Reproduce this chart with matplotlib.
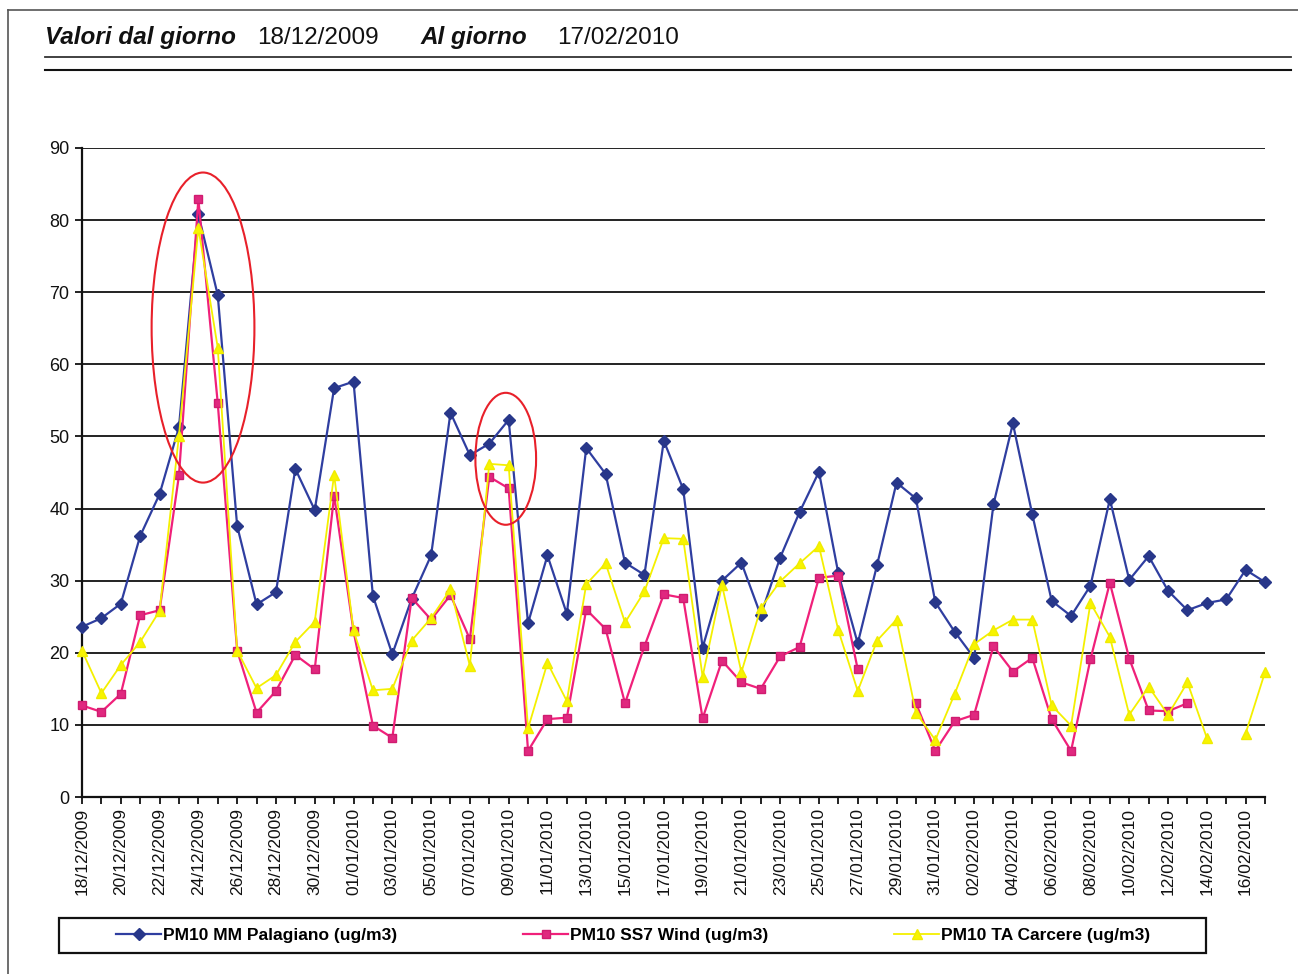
import numpy as np
import pandas as pd
import matplotlib
matplotlib.use("Agg")
import matplotlib.pyplot as plt
from matplotlib.lines import Line2D
from matplotlib.patches import Ellipse, Rectangle

plt.rcParams['font.family'] = ['Liberation Sans', 'DejaVu Sans']

# ---------------- data ----------------
dates = pd.date_range("2009-12-18", "2010-02-17", freq="D")
date_labels = [d.strftime("%d/%m/%Y") for d in dates]

palagiano = [23.6, 24.8, 26.8, 36.2, 42.0, 51.3, 80.8, 69.6, 37.6, 26.7,
             28.4, 45.5, 39.8, 56.7, 57.6, 27.9, 19.8, 27.5, 33.5, 53.3,
             47.4, 49.0, 52.3, 24.1, 33.5, 25.4, 48.4, 44.8, 32.5, 30.8,
             49.4, 42.7, 20.7, 30.0, 32.5, 25.2, 33.2, 39.5, 45.1, 31.0,
             21.3, 32.2, 43.6, 41.4, 27.0, 22.9, 19.3, 40.6, 51.8, 39.2,
             27.2, 25.1, 29.3, 41.3, 30.1, 33.4, 28.6, 25.9, 26.9, 27.4,
             31.5, 29.8]
ss7_wind = [12.7, 11.8, 14.3, 25.2, 25.9, 44.6, 82.9, 54.6, 20.3, 11.7,
            14.7, 19.7, 17.7, 41.8, 23.0, 9.9, 8.2, 27.6, 24.6, 28.0,
            21.9, 44.4, 42.8, 6.4, 10.8, 11.0, 26.0, 23.3, 13.0, 20.9,
            28.1, 27.6, 10.9, 18.9, 15.9, 15.0, 19.5, 20.8, 30.4, 30.7,
            17.7, np.nan, np.nan, 13.0, 6.4, 10.5, 11.4, 20.9, 17.4, 19.3,
            10.8, 6.4, 19.1, 29.7, 19.2, 12.0, 11.9, 13.0, np.nan, np.nan,
            np.nan, np.nan]
carcere = [20.3, 14.4, 18.3, 21.5, 25.8, 50.1, 78.9, 62.3, 20.3, 15.1,
           16.9, 21.5, 24.3, 44.7, 23.1, 14.8, 15.0, 21.7, 24.8, 28.8,
           18.2, 46.2, 46.0, 9.5, 18.6, 13.3, 29.5, 32.4, 24.2, 28.5,
           35.9, 35.8, 16.7, 29.4, 17.3, 26.2, 29.9, 32.4, 34.8, 23.1,
           14.7, 21.7, 24.6, 11.7, 7.9, 14.3, 21.2, 23.1, 24.6, 24.6,
           12.7, 9.9, 26.9, 22.2, 11.4, 15.3, 11.4, 15.9, 8.2, np.nan,
           8.8, 17.3]
series_names = ["PM10 MM Palagiano (ug/m3)", "PM10 SS7 Wind (ug/m3)",
                "PM10 TA Carcere (ug/m3)"]
y_ticks = [0, 10, 20, 30, 40, 50, 60, 70, 80, 90]

# ---------------- figure ----------------
W, H = 1298, 974
fig = plt.figure(figsize=(W / 100, H / 100), dpi=100)
fig.patch.set_facecolor("white")

def fx(px):
    return px / W

def fy(py):
    return 1 - py / H

# page border and header rules
fig.add_artist(Line2D([fx(8), fx(1298)], [fy(10), fy(10)], color="#555555", lw=1.2))
fig.add_artist(Line2D([fx(8), fx(8)], [fy(10), fy(974)], color="#555555", lw=1.2))
fig.add_artist(Line2D([fx(45), fx(1291)], [fy(57), fy(57)], color="#333333", lw=1.3))
fig.add_artist(Line2D([fx(45), fx(1291)], [fy(70), fy(70)], color="#111111", lw=1.5))

# header text
fig.text(fx(45), fy(44), "Valori dal giorno", fontsize=17.5, fontweight="bold",
         fontstyle="italic", ha="left", va="baseline", color="#111111")
fig.text(fx(257), fy(44), "18/12/2009", fontsize=17.5, ha="left", va="baseline",
         color="#111111")
fig.text(fx(420), fy(44), "Al giorno", fontsize=17.5, fontweight="bold",
         fontstyle="italic", ha="left", va="baseline", color="#111111")
fig.text(fx(557), fy(44), "17/02/2010", fontsize=17.5, ha="left", va="baseline",
         color="#111111")

# axes
ax = fig.add_axes([fx(82), fy(797), fx(1265) - fx(82), fy(148) - fy(797)])
x = np.arange(len(dates))
ax.set_xlim(0, len(dates) - 1)
ax.set_ylim(0, 90)

ax.set_yticks(y_ticks)
ax.set_yticklabels([str(v) for v in y_ticks], fontsize=13)
ax.set_xticks(x)
ax.set_xticklabels([lab if i % 2 == 0 else "" for i, lab in enumerate(date_labels)],
                   rotation=90, fontsize=12.5)
ax.tick_params(axis="x", direction="out", length=5, width=1.3, pad=3, colors="#111111")
ax.tick_params(axis="y", direction="out", length=5, width=1.3, pad=4, colors="#111111")

for v in y_ticks[1:]:
    ax.axhline(v, color="#222222", lw=1.4, zorder=1)

for s in ["top", "right"]:
    ax.spines[s].set_visible(False)
for s in ["left", "bottom"]:
    ax.spines[s].set_color("#111111")
    ax.spines[s].set_linewidth(1.6)

blue_line, = ax.plot(x, palagiano, color="#2f3ea0", lw=1.6, marker="D", ms=6,
                     mfc="#28378a", mec="#28378a", zorder=3, clip_on=False)
pink_line, = ax.plot(x, ss7_wind, color="#f0207a", lw=1.6, marker="s", ms=6,
                     mfc="#e0287f", mec="#d01c70", zorder=4, clip_on=False)
yell_line, = ax.plot(x, carcere, color="#f4f000", lw=1.3, marker="^", ms=7,
                     mfc="#f8f400", mec="#f0ec00", zorder=5, clip_on=False)

# red highlight ellipses
ax.add_patch(Ellipse((6.24, 65.1), 5.3, 43.0, fill=False, edgecolor="#e8202a",
                     lw=1.5, zorder=6, clip_on=False))
ax.add_patch(Ellipse((21.85, 46.9), 3.13, 18.3, fill=False, edgecolor="#e8202a",
                     lw=1.5, zorder=6, clip_on=False))

# legend box
fig.add_artist(Rectangle((fx(59), fy(953)), fx(1206) - fx(59), fy(918) - fy(953),
                         fill=False, edgecolor="#111111", lw=1.6,
                         transform=fig.transFigure))
leg = fig.legend([blue_line, pink_line, yell_line], series_names,
                 loc="center", ncol=3, mode="expand",
                 bbox_to_anchor=(fx(116), fy(950), fx(1150) - fx(116), fy(921) - fy(950)),
                 frameon=False, handlelength=2.6, handletextpad=0.1,
                 borderpad=0, borderaxespad=0,
                 prop={"size": 12.5, "weight": "bold"})

fig.savefig("out.png", dpi=100, facecolor="white")
